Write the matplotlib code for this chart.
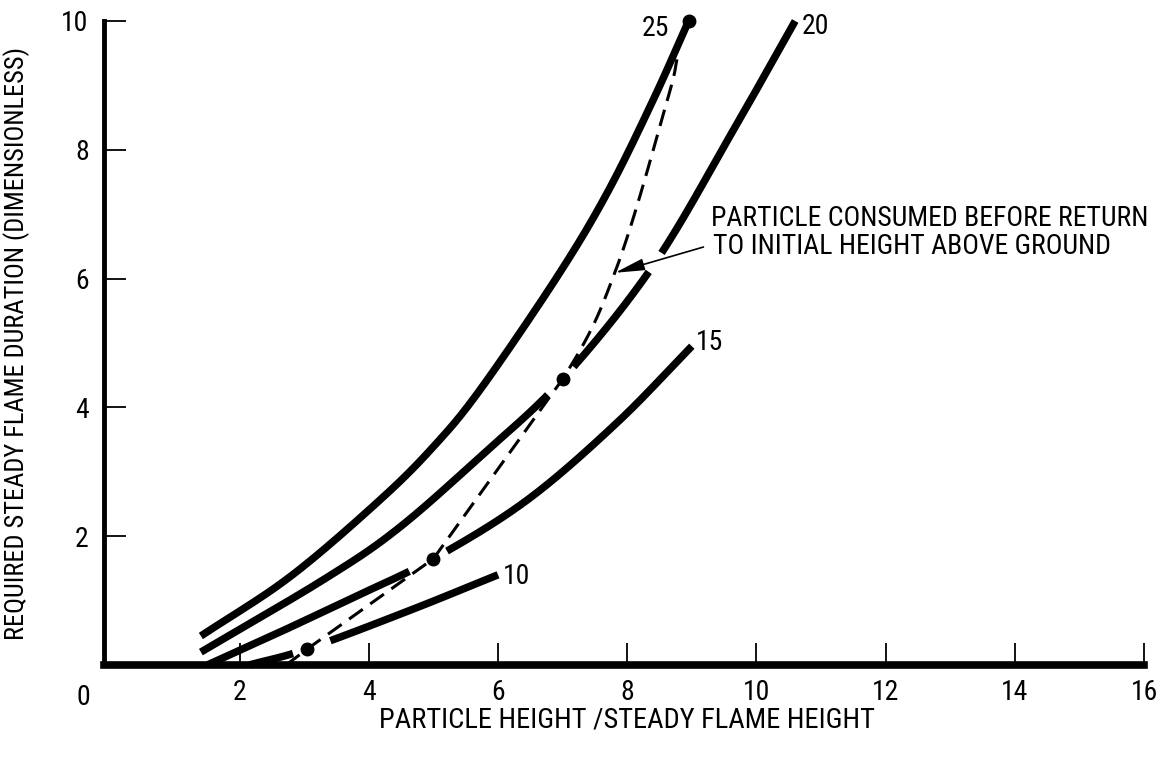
import numpy as np
import matplotlib
matplotlib.use("Agg")
import matplotlib.pyplot as plt

plt.rcParams['font.family'] = ['Liberation Sans Narrow', 'Roboto Condensed', 'Roboto', 'DejaVu Sans']
plt.rcParams['font.stretch'] = 'condensed'

# Curves of required steady flame duration, one per parameter value
x25 = [1.4, 2.78, 4.17, 5.0, 5.72, 6.91, 7.69, 8.4, 8.95]
y25 = [0.45, 1.37, 2.56, 3.39, 4.27, 6.02, 7.33, 8.77, 10.0]

x20 = [1.4, 3.29, 4.43, 5.72, 7.0, 8.4, 9.64, 10.6]
y20 = [0.2, 1.32, 2.1, 3.23, 4.44, 6.2, 8.3, 10.0]

x15 = [1.5, 2.6, 3.7, 5.0, 6.45, 7.84, 9.0]
y15 = [0.0, 0.5, 1.02, 1.65, 2.56, 3.76, 4.95]

x10 = [2.15, 3.05, 4.64, 6.0]
y10 = [0.0, 0.25, 0.85, 1.4]

curve_labels = ["25", "20", "15", "10"]

# Boundary: particle consumed before return to initial height
x_bound = [2.72, 3.05, 5.0, 7.0, 7.84, 8.62, 8.78]
y_bound = [0.0, 0.25, 1.65, 4.44, 6.18, 8.77, 9.45]
x_dots = [3.05, 5.0, 7.0, 8.95]
y_dots = [0.25, 1.65, 4.44, 10.0]

xticks = [2, 4, 6, 8, 10, 12, 14, 16]
yticks = [2, 4, 6, 8, 10]

fig = plt.figure(figsize=(11.67, 7.66), dpi=100)
ax = fig.add_axes([0.0891, 0.1319, 0.9803 - 0.0891, 0.9726 - 0.1319])
ax.set_xlim(-0.1, 16)
ax.set_ylim(0, 10)


def smooth(xs, ys, n=40):
    """Catmull-Rom path through the given points."""
    p = np.column_stack([xs, ys]).astype(float)
    p = np.vstack([2 * p[0] - p[1], p, 2 * p[-1] - p[-2]])
    out = []
    t = np.linspace(0, 1, n, endpoint=False)[:, None]
    for i in range(1, len(p) - 2):
        p0, p1, p2, p3 = p[i - 1], p[i], p[i + 1], p[i + 2]
        seg = 0.5 * ((2 * p1) + (-p0 + p2) * t
                     + (2 * p0 - 5 * p1 + 4 * p2 - p3) * t ** 2
                     + (-p0 + 3 * p1 - 3 * p2 + p3) * t ** 3)
        out.append(seg)
    out.append(p[-2][None, :])
    out = np.vstack(out)
    return out[:, 0], out[:, 1]


def draw_curve(xs, ys, gaps):
    """Thick solid curve, broken where other lines cross it."""
    xf, yf = smooth(xs, ys)
    for a, b in gaps:
        yf[(xf > a) & (xf < b)] = np.nan
    ax.plot(xf, yf, color='black', lw=5.4, solid_capstyle='butt',
            solid_joinstyle='round', clip_on=False, zorder=3)


draw_curve(x25, y25, [])
draw_curve(x20, y20, [(6.8, 7.15), (8.36, 8.52)])
draw_curve(x15, y15, [(4.64, 5.2)])
draw_curve(x10, y10, [(2.85, 3.4)])

# Dashed boundary: straight up to the third dot, curved above it
k = x_bound.index(7.0)
xs_up, ys_up = smooth(x_bound[k - 1:], y_bound[k - 1:])
keep = xs_up >= x_bound[k]
xb = np.concatenate([x_bound[:k], xs_up[keep]])
yb = np.concatenate([y_bound[:k], ys_up[keep]])
ax.plot(xb, yb, color='black', lw=2.2, dashes=(5.5, 3),
        zorder=4, clip_on=False)
ax.plot(x_dots, y_dots, 'o', color='black', ms=9, zorder=5, clip_on=False)

fs = 20
ax.text(8.43, 9.89, curve_labels[0], fontsize=fs, ha='center', va='center')
ax.text(10.92, 9.91, curve_labels[1], fontsize=fs, ha='center', va='center')
ax.text(9.27, 5.0, curve_labels[2], fontsize=fs, ha='center', va='center')
ax.text(6.28, 1.38, curve_labels[3], fontsize=fs, ha='center', va='center')

ax.text(9.29, 6.93, "PARTICLE CONSUMED BEFORE RETURN", fontsize=20,
        ha='left', va='center')
ax.text(9.33, 6.50, "TO INITIAL HEIGHT ABOVE GROUND", fontsize=20,
        ha='left', va='center')
ax.annotate('', xy=(7.81, 6.09), xytext=(9.18, 6.49),
            arrowprops=dict(arrowstyle='-|>,head_length=0.9,head_width=0.18',
                            color='black', lw=1.2, shrinkA=0, shrinkB=0,
                            mutation_scale=20), zorder=4)

# Axes frame
for side in ('top', 'right'):
    ax.spines[side].set_visible(False)
ax.spines['bottom'].set_linewidth(5.5)
ax.spines['left'].set_linewidth(3.5)
ax.spines['left'].set_bounds(0, 10)

ax.set_xticks(xticks)
ax.set_yticks(yticks)
ax.set_xticklabels([str(t) for t in xticks])
ax.set_yticklabels([str(t) for t in yticks])
ax.tick_params(direction='in', length=16, width=1.3, labelsize=fs)
ax.tick_params(axis='x', pad=10)
ax.tick_params(axis='y', pad=11)
ax.text(-0.42, -0.5, "0", fontsize=fs, ha='center', va='center',
        transform=ax.transData, clip_on=False)

fig.text(627 / 1167, 1 - 720 / 766, "PARTICLE HEIGHT /STEADY FLAME HEIGHT",
         fontsize=20.5, ha='center', va='center')
fig.text(17 / 1167, 1 - 343 / 766,
         "REQUIRED STEADY FLAME DURATION (DIMENSIONLESS)",
         fontsize=19, ha='center', va='center', rotation=90)

fig.savefig("out.png", dpi=100, facecolor='white')
